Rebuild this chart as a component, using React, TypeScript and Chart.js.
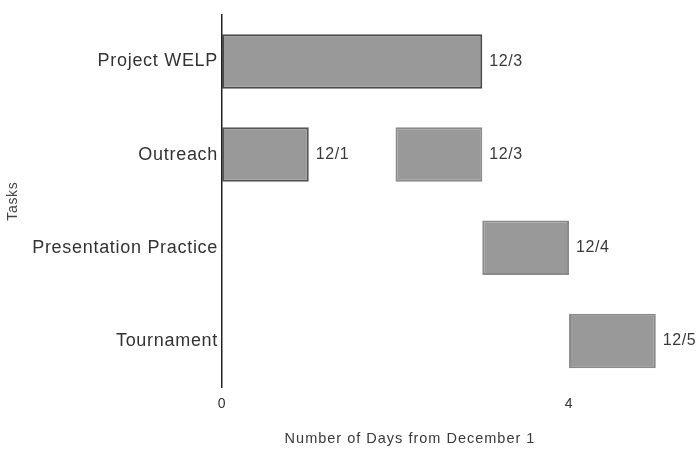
import React, { useEffect, useRef } from "react";
import { Chart, registerables } from "chart.js";

Chart.register(...registerables);

const tasks = ["Project WELP", "Outreach", "Presentation Practice", "Tournament"];
// first block of each task: [startDay, endDay]
const phaseOne: ([number, number] | null)[] = [[0, 3], [0, 1], [3, 4], [4, 5]];
// second block (only Outreach has one)
const phaseTwo: ([number, number] | null)[] = [null, [2, 3], null, null];
const phaseOneLabels = ["12/3", "12/1", "12/4", "12/5"];
const phaseTwoLabels = ["", "12/3", "", ""];
const phaseOneBorders = ["#4a4a4a", "#555555", "#8a8a8a", "#8a8a8a"];
const xTicks = [0, 4];
const xTitle = "Number of Days from December 1";
const yTitle = "Tasks";

const FONT = "'Liberation Sans', Arial, sans-serif";

export default function App() {
  const ref = useRef<HTMLCanvasElement | null>(null);

  useEffect(() => {
    if (!ref.current) return;
    const endLabels = [phaseOneLabels, phaseTwoLabels];

    const bgPlugin = {
      id: "bg",
      beforeInit(chart: any) {
        (chart.ctx as any).letterSpacing = "0.7px";
      },
      beforeDraw(chart: any) {
        const ctx = chart.ctx;
        ctx.save();
        ctx.fillStyle = "#ffffff";
        ctx.fillRect(0, 0, chart.width, chart.height);
        ctx.restore();
        (ctx as any).letterSpacing = "0.7px";
      },
    };

    const labelPlugin = {
      id: "endLabels",
      afterDatasetsDraw(chart: any) {
        const ctx = chart.ctx;
        ctx.save();
        (ctx as any).letterSpacing = "0.6px";
        ctx.font = `16px ${FONT}`;
        ctx.fillStyle = "#3a3a3a";
        ctx.textAlign = "left";
        ctx.textBaseline = "middle";
        chart.data.datasets.forEach((ds: any, di: number) => {
          const meta = chart.getDatasetMeta(di);
          meta.data.forEach((bar: any, i: number) => {
            const txt = endLabels[di][i];
            if (!txt || ds.data[i] == null) return;
            ctx.fillText(txt, bar.x + 7, bar.y);
          });
        });
        // x axis title
        const area = chart.chartArea;
        (ctx as any).letterSpacing = "1px";
        ctx.font = `14.5px ${FONT}`;
        ctx.textAlign = "center";
        ctx.fillText(xTitle, area.left + 188, 439);
        ctx.restore();
      },
    };

    const chart = new Chart(ref.current, {
      type: "bar",
      data: {
        labels: tasks,
        datasets: [
          {
            label: "Block 1",
            data: phaseOne as any,
            backgroundColor: "#999999",
            borderColor: phaseOneBorders,
            borderWidth: 2,
            borderSkipped: false,
            grouped: false,
            barPercentage: 0.585,
            categoryPercentage: 1,
          },
          {
            label: "Block 2",
            data: phaseTwo as any,
            backgroundColor: "#999999",
            borderColor: "#8a8a8a",
            borderWidth: 2,
            borderSkipped: false,
            grouped: false,
            barPercentage: 0.585,
            categoryPercentage: 1,
          },
        ],
      },
      options: {
        indexAxis: "y",
        responsive: false,
        animation: false,
        layout: { padding: { top: 11, right: 0, left: 0, bottom: 0 } },
        plugins: {
          legend: { display: false },
          tooltip: { enabled: false },
        },
        scales: {
          x: {
            type: "linear",
            min: 0,
            max: 5.475,
            grid: { display: false },
            border: { display: false },
            afterBuildTicks(scale: any) {
              scale.ticks = xTicks.map((v) => ({ value: v }));
            },
            afterFit(scale: any) {
              scale.height = 63.5;
            },
            ticks: {
              color: "#333333",
              font: { family: FONT, size: 14 },
              padding: 0,
            },
          },
          y: {
            type: "category",
            grid: { display: false, drawTicks: false },
            border: { display: true, color: "#222222", width: 1.5 },
            afterFit(scale: any) {
              scale.width = 222;
            },
            ticks: {
              color: "#333333",
              font: { family: FONT, size: 18 },
              padding: 4,
            },
            title: {
              display: true,
              text: yTitle,
              color: "#444444",
              font: { family: FONT, size: 14 },
              padding: { top: 5, bottom: 0 },
            },
          },
        },
      },
      plugins: [bgPlugin, labelPlugin],
    });
    return () => chart.destroy();
  }, []);

  return (
    <div style={{ position: "fixed", left: 0, top: 0, width: 697, height: 451, background: "#fff" }}>
      <canvas ref={ref} width={697} height={451} style={{ display: "block" }} />
    </div>
  );
}
